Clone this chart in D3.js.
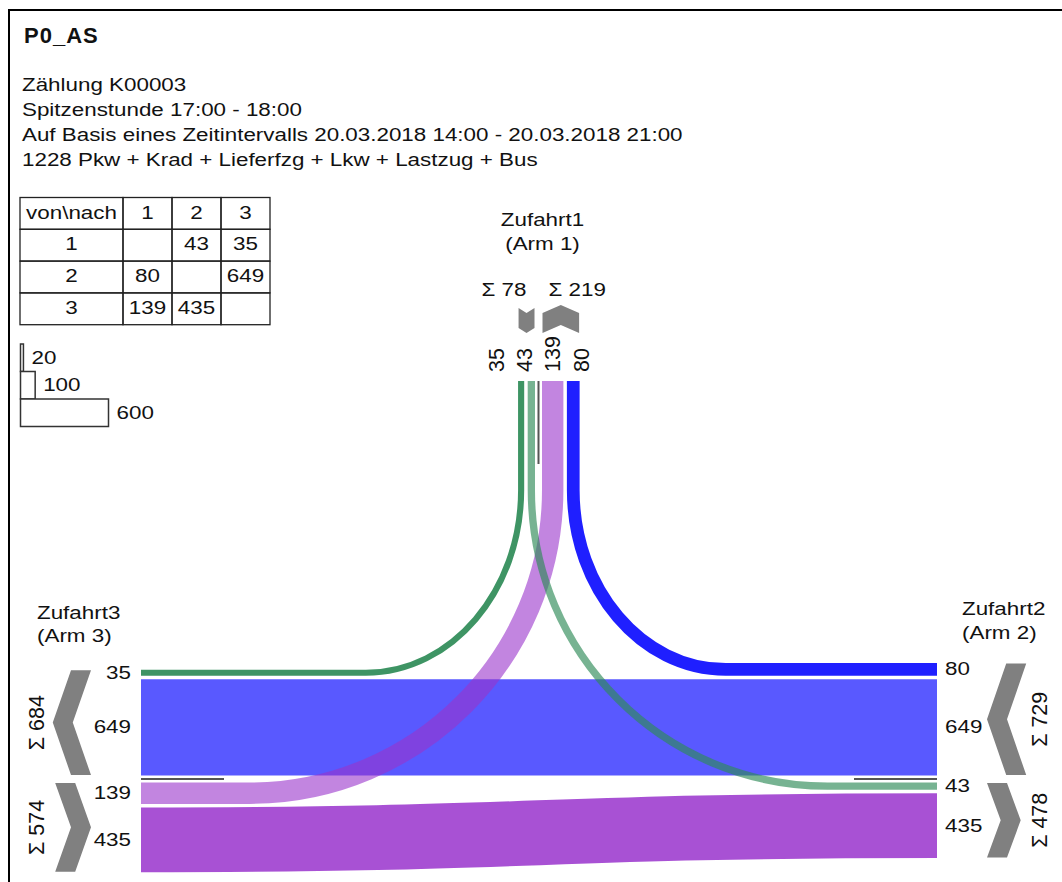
<!DOCTYPE html>
<html><head><meta charset="utf-8">
<script src="https://cdn.jsdelivr.net/npm/d3@7"></script>
<style>body{margin:0;background:#fff}svg{display:block}</style>
</head><body>
<script>
// ---------------- data ----------------
const title = "P0_AS";
const headerLines = [
  "Zählung K00003",
  "Spitzenstunde 17:00 - 18:00",
  "Auf Basis eines Zeitintervalls 20.03.2018 14:00 - 20.03.2018 21:00",
  "1228 Pkw + Krad + Lieferfzg + Lkw + Lastzug + Bus"
];
const armIds = [1, 2, 3];
const armNames = ["Zufahrt1", "Zufahrt2", "Zufahrt3"];
const armSubNames = ["(Arm 1)", "(Arm 2)", "(Arm 3)"];
const flowFrom = [1, 1, 2, 2, 3, 3];
const flowTo = [2, 3, 1, 3, 1, 2];
const flowValues = [43, 35, 80, 649, 139, 435];
const tableCorner = "von\\nach";
const legendValues = [20, 100, 600];

// ---------------- styles / layout ----------------
const W = 1062, H = 882;
const SX = 1.28, FS = 17.5, RFS = 21.5;
const armColor = {1: "#2e8b57", 2: "#0000ff", 3: "#9933cc"};
const flowOpacity = {"1-2": 0.65, "1-3": 0.92, "2-1": 0.88, "2-3": 0.65, "3-1": 0.6, "3-2": 0.85};
const turnRatio = {"1-3": 0.85, "2-1": 0.85, "3-1": 1.0, "1-2": 1.0};
const drawOrder = ["2-3", "3-2", "2-1", "1-3", "3-1", "1-2"];
const TOP_CX = 538.5, TOP_EDGE = 381, LEFT_EDGE = 141, RIGHT_EDGE = 937, SIDE_CY = 779;
const MEDIAN = 4, LANE_GAP = 4.5, BEND_Y = 490, K = 0.552;
const CH_T = 20;
// lane order from median outward: out-lanes (to arm), in-lanes (from arm)
const laneOut = {1: [2, 3], 2: [3, 1], 3: [1, 2]};
const laneIn = {1: [3, 2], 2: [1, 3], 3: [2, 1]};
// sign of out side along the arm cross axis
const outSign = {1: -1, 2: -1, 3: 1};

const wScale = d3.scaleLinear().domain([0, 600]).range([0, 88]);
const flows = flowFrom.map((f, i) => ({from: f, to: flowTo[i], value: flowValues[i], key: f + "-" + flowTo[i]}));
const flowByKey = {};
flows.forEach(f => flowByKey[f.key] = f);

const svg = d3.select("body").append("svg").attr("width", W).attr("height", H)
  .style("font-family", "'Liberation Sans', Arial, sans-serif");

function htext(x, y, str, anchor = "start", size = FS) {
  return svg.append("text").attr("transform", `translate(${x},${y}) scale(${SX},1)`)
    .attr("text-anchor", anchor).attr("font-size", size).attr("fill", "#111").text(str);
}
function vtext(x, y, str, anchor = "middle") {
  return svg.append("text").attr("transform", `translate(${x},${y}) rotate(-90)`)
    .attr("text-anchor", anchor).attr("dy", "0.36em").attr("font-size", RFS).attr("fill", "#111").text(str);
}

// frame
svg.append("path").attr("d", `M9,${H} V10 H${W}`).attr("fill", "none").attr("stroke", "#000").attr("stroke-width", 2);

// title + header
svg.append("text").attr("x", 24).attr("y", 43).attr("font-size", 22).attr("font-weight", "bold")
  .attr("letter-spacing", 1).attr("fill", "#111").text(title);
headerLines.forEach((t, i) => htext(22, 91 + i * 25, t));

// table
const colW = [103, 49, 49, 49], rowH = 31.8, tX = 20, tY = 197.5;
const colX = [tX]; colW.forEach((w, i) => colX.push(colX[i] + w));
const tableRows = [[tableCorner, ...armIds.map(String)]].concat(
  armIds.map(a => [String(a), ...armIds.map(b => flowByKey[a + "-" + b] ? String(flowByKey[a + "-" + b].value) : "")]));
const tg = svg.append("g");
tableRows.forEach((row, r) => {
  row.forEach((cell, c) => {
    tg.append("rect").attr("x", colX[c]).attr("y", tY + r * rowH).attr("width", colW[c]).attr("height", rowH)
      .attr("fill", "none").attr("stroke", "#222").attr("stroke-width", 1.3);
    if (cell !== "") htext(colX[c] + colW[c] / 2, tY + r * rowH + 21, cell, "middle");
  });
});

// legend
const lgY = 344, lgH = 27.5, lgX = 20.5;
legendValues.forEach((v, i) => {
  svg.append("rect").attr("x", lgX).attr("y", lgY + i * lgH).attr("width", wScale(v)).attr("height", lgH)
    .attr("fill", "#fff").attr("stroke", "#333").attr("stroke-width", 1.5);
  htext(lgX + wScale(v) + 8, lgY + i * lgH + lgH / 2 + 6, String(v));
});

// ---------------- lane positions ----------------
const lanePos = {};
const groupSpan = {};
armIds.forEach(a => {
  [["out", laneOut[a], outSign[a]], ["in", laneIn[a], -outSign[a]]].forEach(([kind, list, sgn]) => {
    let off = MEDIAN;
    const edges = [];
    list.forEach(other => {
      const f = kind === "out" ? flowByKey[a + "-" + other] : flowByKey[other + "-" + a];
      const w = wScale(f.value);
      const c = off + w / 2;
      const base = a === 1 ? TOP_CX : SIDE_CY;
      lanePos[a + "|" + f.key] = {c: base + sgn * c, w};
      edges.push(base + sgn * off, base + sgn * (off + w));
      off += w + LANE_GAP;
    });
    groupSpan[a + "|" + kind] = d3.extent(edges);
  });
});
const pos = (a, f) => lanePos[a + "|" + f.key].c;
const edgeX = a => a === 2 ? RIGHT_EDGE : LEFT_EDGE;

function topToSide(xTop, ySide, xEdge, ratio) {
  const ry = ySide - BEND_Y, rx = ratio * ry, dir = Math.sign(xEdge - xTop);
  const xEnd = xTop + dir * rx;
  const p = d3.path();
  p.moveTo(xTop, TOP_EDGE);
  p.lineTo(xTop, BEND_Y);
  p.bezierCurveTo(xTop, BEND_Y + K * ry, xEnd - dir * K * rx, ySide, xEnd, ySide);
  p.lineTo(xEdge, ySide);
  return p.toString();
}
const link = d3.linkHorizontal();
function flowPath(f) {
  if (f.from === 1 || f.to === 1) {
    const side = f.from === 1 ? f.to : f.from;
    return topToSide(pos(1, f), pos(side, f), edgeX(side), turnRatio[f.key]);
  }
  return link({source: [LEFT_EDGE, pos(3, f)], target: [RIGHT_EDGE, pos(2, f)]});
}

// flows
drawOrder.forEach(k => {
  const f = flowByKey[k];
  svg.append("path").attr("d", flowPath(f)).attr("fill", "none")
    .attr("stroke", armColor[f.from]).attr("stroke-opacity", flowOpacity[k])
    .attr("stroke-width", wScale(f.value) + 1).attr("stroke-linecap", "butt");
});

// median separators
const SEP = 83;
svg.append("line").attr("x1", TOP_CX).attr("x2", TOP_CX).attr("y1", TOP_EDGE).attr("y2", TOP_EDGE + SEP)
  .attr("stroke", "#555").attr("stroke-width", 2);
svg.append("line").attr("x1", LEFT_EDGE).attr("x2", LEFT_EDGE + SEP).attr("y1", SIDE_CY).attr("y2", SIDE_CY)
  .attr("stroke", "#555").attr("stroke-width", 2);
svg.append("line").attr("x1", RIGHT_EDGE - SEP).attr("x2", RIGHT_EDGE).attr("y1", SIDE_CY).attr("y2", SIDE_CY)
  .attr("stroke", "#555").attr("stroke-width", 2);

// chevrons
const chevBase = {1: 333, 2: 987, 3: 91};
function toScreen(a, u, v) {
  if (a === 1) return [v, chevBase[1] - u];
  if (a === 3) return [chevBase[3] - u, v];
  return [chevBase[2] + u, v];
}
function chevron(a, span, inward) {
  const [s0, s1] = span, half = (s1 - s0) / 2, d = 0.3 * half + 2.5, m = (s0 + s1) / 2, t = CH_T;
  const pts = inward
    ? [[d, s0], [0, m], [d, s1], [d + t, s1], [t, m], [d + t, s0]]
    : [[0, s0], [d, m], [0, s1], [t, s1], [t + d, m], [t, s0]];
  svg.append("path").attr("d", "M" + pts.map(p => toScreen(a, p[0], p[1]).join(",")).join("L") + "Z")
    .attr("fill", "#808080");
}
const sumOut = a => d3.sum(flows.filter(f => f.from === a), f => f.value);
const sumIn = a => d3.sum(flows.filter(f => f.to === a), f => f.value);

armIds.forEach(a => {
  chevron(a, groupSpan[a + "|out"], true);
  chevron(a, groupSpan[a + "|in"], false);
});

// top arm labels
htext(TOP_CX - 12, chevBase[1] - 37, "Σ " + sumOut(1), "end");
htext(TOP_CX + 10, chevBase[1] - 37, "Σ " + sumIn(1), "start");
const topLanes = flows.filter(f => f.from === 1 || f.to === 1).sort((p, q) => pos(1, p) - pos(1, q));
topLanes.forEach((f, i) => vtext(TOP_CX + (i - (topLanes.length - 1) / 2) * 28.3, TOP_EDGE - 9, String(f.value), "start"));

// side labels
[3, 2].forEach(a => {
  flows.filter(f => f.from === a || f.to === a).forEach(f => {
    const y = pos(a, f);
    if (a === 3) htext(LEFT_EDGE - 10, y + 6, String(f.value), "end");
    else htext(RIGHT_EDGE + 8, y + 6, String(f.value), "start");
  });
  const sx = a === 3 ? chevBase[3] - 55 : chevBase[2] + 52;
  const so = groupSpan[a + "|out"], si = groupSpan[a + "|in"];
  vtext(sx, (so[0] + so[1]) / 2, "Σ " + sumOut(a));
  vtext(sx, (si[0] + si[1]) / 2, "Σ " + sumIn(a));
});

// arm titles
htext(TOP_CX + 4, 226, armNames[0], "middle");
htext(TOP_CX + 4, 250, armSubNames[0], "middle");
htext(37, 619, armNames[2]);
htext(37, 642, armSubNames[2]);
htext(962, 615, armNames[1]);
htext(962, 639, armSubNames[1]);
</script>
</body></html>
